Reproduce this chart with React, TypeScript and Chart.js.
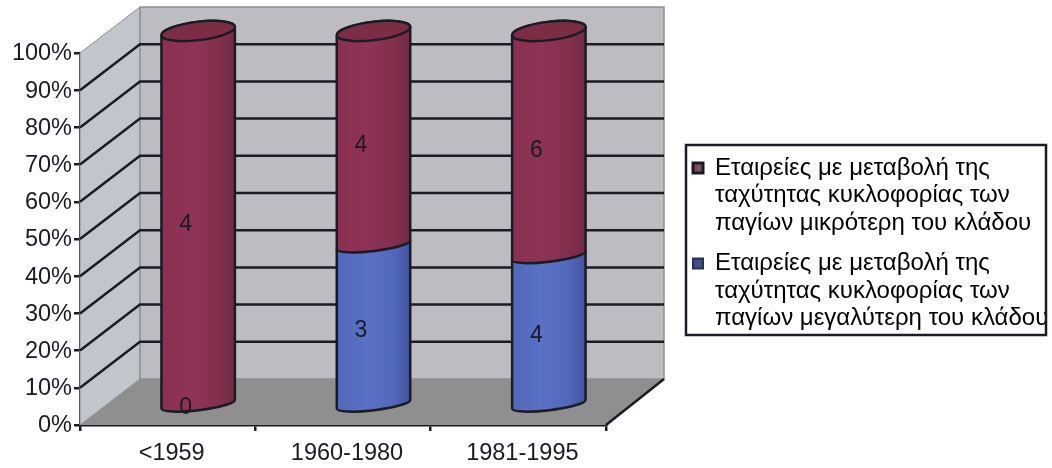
import React, { useEffect, useRef } from "react";
import { Chart, registerables } from "chart.js";

Chart.register(...registerables);

const categories = ["<1959", "1960-1980", "1981-1995"];
const lowerCounts = [0, 3, 4]; // blue
const upperCounts = [4, 4, 6]; // red
const upperLabel = ["Εταιρείες με μεταβολή της", "ταχύτητας κυκλοφορίας των", "παγίων μικρότερη του κλάδου"];
const lowerLabel = ["Εταιρείες με μεταβολή της", "ταχύτητας κυκλοφορίας των", "παγίων μεγαλύτερη του κλάδου"];

const lowerPct = lowerCounts.map((v, i) => (100 * v) / (v + upperCounts[i]));
const upperPct = upperCounts.map((v, i) => (100 * v) / (v + lowerCounts[i]));

const INK = "#1b1b26";
const FONT = "'Liberation Sans', Arial, sans-serif";
const DX = 60;
const DY = 46;

const cylinderPlugin = {
  id: "cylinder3d",
  afterLayout(chart: any) {
    const l = chart.legend;
    if (!l) return;
    l.left = 680;
    l.top = 143;
    l.right = 1060;
    l.bottom = 468;
    l.width = 380;
    l.height = 325;
  },
  beforeDatasetsDraw(chart: any) {
    const { ctx, chartArea: a, scales } = chart;
    const y = scales.y;
    ctx.save();
    const poly = (pts: number[][], fill: string, stroke?: string, w = 1) => {
      ctx.beginPath();
      pts.forEach((p, i) => (i ? ctx.lineTo(p[0], p[1]) : ctx.moveTo(p[0], p[1])));
      ctx.closePath();
      ctx.fillStyle = fill;
      ctx.fill();
      if (stroke) {
        ctx.strokeStyle = stroke;
        ctx.lineWidth = w;
        ctx.stroke();
      }
    };
    const backRight = a.right + DX - 2;
    // side wall
    poly([[a.left, a.top], [a.left + DX, a.top - DY], [a.left + DX, a.bottom - DY], [a.left, a.bottom]], "#c3c5cc", "#8f9096", 1);
    // back wall
    poly([[a.left + DX, a.top - DY], [backRight, a.top - DY], [backRight, a.bottom - DY], [a.left + DX, a.bottom - DY]], "#bdbdc1", "#8f9096", 1.5);
    // floor
    poly([[a.left, a.bottom], [a.left + DX, a.bottom - DY], [backRight, a.bottom - DY], [a.right, a.bottom]], "#8f8f8f");
    // gridlines
    ctx.strokeStyle = INK;
    ctx.lineWidth = 2.5;
    y.ticks.forEach((t: any) => {
      if (t.value <= 0 || t.value >= 100) return;
      const py = y.getPixelForValue(t.value);
      ctx.beginPath();
      ctx.moveTo(a.left, py);
      ctx.lineTo(a.left + DX, py - DY);
      ctx.lineTo(backRight, py - DY);
      ctx.stroke();
    });
    // floor right edge
    ctx.beginPath();
    ctx.moveTo(a.right, a.bottom);
    ctx.lineTo(backRight, a.bottom - DY);
    ctx.stroke();
    ctx.restore();
  },
  afterDatasetsDraw(chart: any) {
    const { ctx, chartArea: a } = chart;
    const shift = (py: number) => py - 19.5 - (2.5 * (a.bottom - py)) / (a.bottom - a.top);
    const rot = -0.121;
    const ryTop = 9.2;
    const ryLow = 6;
    const cxOff = 30.5;
    const paints = [
      { stops: ["#5068b8", "#5a72c4", "#5369ba", "#44549f"] },
      { stops: ["#8a3050", "#8f3356", "#84304f", "#702b42"] },
    ];
    ctx.save();
    [0, 1].forEach((ds) => {
      const meta = chart.getDatasetMeta(ds);
      meta.data.forEach((bar: any) => {
        const top = shift(bar.y);
        const base = shift(bar.base);
        if (Math.abs(bar.base - bar.y) < 0.5) return;
        const cx = bar.x + cxOff;
        const rx = bar.width / 2;
        const g = ctx.createLinearGradient(cx - rx, 0, cx + rx, 0);
        paints[ds].stops.forEach((c, i) => g.addColorStop([0, 0.4, 0.75, 1][i], c));
        ctx.beginPath();
        ctx.ellipse(cx, top, rx, ryTop, rot, Math.PI, 0, false);
        ctx.ellipse(cx, base, rx, ryLow, rot, 0, Math.PI, false);
        ctx.closePath();
        ctx.fillStyle = g;
        ctx.fill();
        ctx.strokeStyle = INK;
        ctx.lineWidth = 2.5;
        ctx.stroke();
        if (ds === 1) {
          ctx.beginPath();
          ctx.ellipse(cx, top, rx, ryTop, rot, 0, Math.PI * 2);
          ctx.fillStyle = "#7a2d45";
          ctx.fill();
          ctx.stroke();
        }
      });
    });
    // value labels
    ctx.font = `23px ${FONT}`;
    ctx.fillStyle = INK;
    ctx.textAlign = "center";
    ctx.textBaseline = "middle";
    [0, 1].forEach((ds) => {
      const counts = ds === 0 ? lowerCounts : upperCounts;
      chart.getDatasetMeta(ds).data.forEach((bar: any, j: number) => {
        if (ds === 0 && counts[j] === 0) {
          ctx.fillText(String(counts[j]), bar.x + 18, a.bottom - 17);
          return;
        }
        ctx.fillText(String(counts[j]), bar.x + 18, (bar.y + bar.base) / 2 - 14);
      });
    });
    // legend frame: the long label is cut by the frame's right side
    ctx.fillStyle = "#ffffff";
    ctx.fillRect(1046, 140, 6, 200);
    ctx.strokeStyle = INK;
    ctx.lineWidth = 2.5;
    ctx.strokeRect(686, 145, 360, 190);
    ctx.restore();
  },
};

export default function App() {
  const ref = useRef<HTMLCanvasElement | null>(null);
  useEffect(() => {
    document.body.style.margin = "0";
    document.body.style.background = "#ffffff";
    const chart = new Chart(ref.current as HTMLCanvasElement, {
      type: "bar",
      data: {
        labels: categories,
        datasets: [
          { label: lowerLabel.join(" "), data: lowerPct, backgroundColor: "transparent", stack: "s" },
          { label: upperLabel.join(" "), data: upperPct, backgroundColor: "transparent", stack: "s" },
        ],
      },
      options: {
        responsive: false,
        animation: false,
        events: [],
        categoryPercentage: 1,
        barPercentage: 0.422,
        layout: { padding: { top: 53, right: 446, left: 0, bottom: 0 } },
        plugins: {
          tooltip: { enabled: false },
          legend: {
            position: "chartArea",
            align: "start",
            labels: {
              boxWidth: 10,
              boxHeight: 10,
              padding: 13,
              color: INK,
              font: { family: FONT, size: 24, lineHeight: 1.146 },
              generateLabels: () => [
                { text: upperLabel, fillStyle: "#7a5060", strokeStyle: INK, lineWidth: 3, datasetIndex: 1 },
                { text: lowerLabel, fillStyle: "#3f4f85", strokeStyle: "#2a3050", lineWidth: 2, datasetIndex: 0 },
              ],
            },
          },
        },
        scales: {
          x: {
            stacked: true,
            afterFit: (s: any) => { s.height = 43; },
            grid: { drawOnChartArea: false, color: INK, lineWidth: 2.5, tickLength: 6, tickWidth: 2.5, tickColor: INK },
            border: { color: INK, width: 2.5 },
            ticks: { color: INK, padding: 8, labelOffset: 4, maxRotation: 0, font: { family: FONT, size: 23.5 } },
          },
          y: {
            stacked: true,
            min: 0,
            max: 100,
            afterFit: (s: any) => { s.width = 80; },
            grid: { drawOnChartArea: false, color: INK, lineWidth: 2.5, tickLength: 6, tickWidth: 2.5, tickColor: INK },
            border: { color: INK, width: 2.5 },
            ticks: { stepSize: 10, color: INK, padding: 2, labelOffset: 1, callback: (v: any) => `${v}%`, font: { family: FONT, size: 23.5 } },
          },
        },
      },
      plugins: [cylinderPlugin],
    } as any);
    return () => chart.destroy();
  }, []);
  return (
    <div style={{ position: "absolute", left: 0, top: 0, width: 1052, height: 468 }}>
      <canvas ref={ref} width={1052} height={468} style={{ display: "block", filter: "blur(0.6px)" }} />
    </div>
  );
}
